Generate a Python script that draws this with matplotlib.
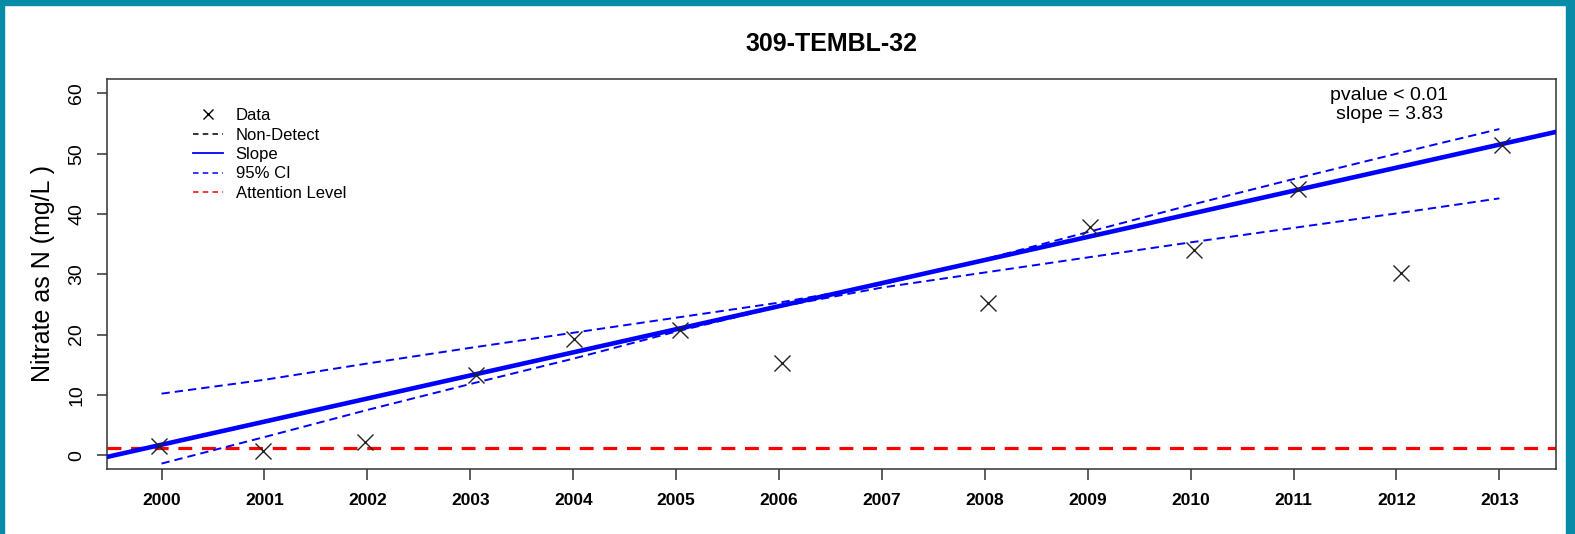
import matplotlib
matplotlib.use('Agg')
import matplotlib.pyplot as plt
from matplotlib.lines import Line2D
from matplotlib.patches import Rectangle

plt.rcParams['font.family'] = ['Liberation Sans', 'DejaVu Sans']
plt.rcParams['lines.scale_dashes'] = False

# Sample dates (decimal years) and nitrate values
sample_dates = [1999.98, 2000.985, 2001.98, 2003.06, 2004.01, 2005.04, 2006.03,
                2008.03, 2009.02, 2010.03, 2011.04, 2012.04, 2013.03]
nitrate = [1.55, 0.66, 2.1, 13.3, 19.2, 20.8, 15.3, 25.3, 37.9, 34.0, 44.1, 30.2, 51.5]

# Trend line and 95% confidence band
slope = 3.83
value_at_2000 = 1.73
ci_years = [2000, 2001, 2002, 2003, 2004, 2005, 2006, 2007, 2008, 2009, 2010, 2011, 2012, 2013]
ci_upper = [10.2, 12.5, 15.2, 17.8, 20.3, 22.8, 25.3, 28.3, 32.5, 37.0, 41.5, 45.8, 50.0, 54.1]
ci_lower = [-1.4, 3.0, 7.5, 11.8, 16.0, 20.5, 24.6, 27.8, 30.3, 32.8, 35.3, 37.7, 40.1, 42.6]

attention_level = 1.13

year_ticks = list(range(2000, 2014))
y_ticks = [0, 10, 20, 30, 40, 50, 60]

fig = plt.figure(figsize=(15.75, 5.34), dpi=100)
ax = fig.add_axes([107 / 1575, 1 - 469 / 534, 1449 / 1575, 390 / 534])

# Teal frame around the figure
teal = '#078BA7'
fig.patches.append(Rectangle((0, 1 - 5 / 534), 1, 5 / 534, transform=fig.transFigure, color=teal, zorder=0))
fig.patches.append(Rectangle((0, 0), 4 / 1575, 1, transform=fig.transFigure, color=teal, zorder=0))
fig.patches.append(Rectangle((1 - 9 / 1575, 0), 9 / 1575, 1, transform=fig.transFigure, color=teal, zorder=0))

# Attention level
ax.axhline(attention_level, color='#FF0000', lw=2.3, dashes=(10, 7), zorder=2)

# Confidence band
ax.plot(ci_years, ci_upper, color='#0000FF', lw=1.4, dashes=(6, 3.6), zorder=3)
ax.plot(ci_years, ci_lower, color='#0000FF', lw=1.4, dashes=(6, 3.6), zorder=3)

# Trend line
ax.axline((2000, value_at_2000), slope=slope, color='#0000FF', lw=3.3, zorder=4)

# Data points
ax.plot(sample_dates, nitrate, linestyle='none', marker='x', markersize=11,
        markeredgewidth=1.0, color='#222222', zorder=5)

ax.set_xlim(1999.47, 2013.55)
ax.set_ylim(-2.3, 62.4)
ax.set_xticks(year_ticks)
ax.set_xticklabels([str(y) for y in year_ticks], fontsize=12.5, fontweight='bold')
ax.set_yticks(y_ticks)
ax.set_yticklabels([str(v) for v in y_ticks], fontsize=14, rotation=90, va='center')
ax.tick_params(axis='x', length=8, width=1.1, color='#333333', pad=9)
ax.tick_params(axis='y', length=7.5, width=1.1, color='#333333', pad=8)
for s in ax.spines.values():
    s.set_linewidth(1.1)
    s.set_color('#333333')

ax.set_ylabel('Nitrate as N (mg/L )', fontsize=18, labelpad=10)
ax.set_title('309-TEMBL-32', fontsize=18, fontweight='bold', pad=20)

# Statistics text
ax.text(0.885, 0.958, 'pvalue < 0.01', transform=ax.transAxes, ha='center', va='center', fontsize=14)
ax.text(0.885, 0.909, 'slope = 3.83', transform=ax.transAxes, ha='center', va='center', fontsize=14)

# Legend
handles = [
    Line2D([], [], linestyle='none', marker='x', markersize=7, markeredgewidth=1.0, color='black'),
    Line2D([], [], color='black', lw=1.1, dashes=(4, 3)),
    Line2D([], [], color='#0000FF', lw=1.3),
    Line2D([], [], color='#0000FF', lw=1.1, dashes=(4, 3)),
    Line2D([], [], color='#FF0000', lw=1.1, dashes=(4, 3)),
]
labels = ['Data', 'Non-Detect', 'Slope', '95% CI', 'Attention Level']
ax.legend(handles, labels, loc='upper left', bbox_to_anchor=((193 - 107) / 1449, 1 - (108 - 79) / 390),
          frameon=False, fontsize=12, borderpad=0, borderaxespad=0, handlelength=1.8,
          handletextpad=0.75, labelspacing=0.27)

fig.savefig('out.png', dpi=100)
